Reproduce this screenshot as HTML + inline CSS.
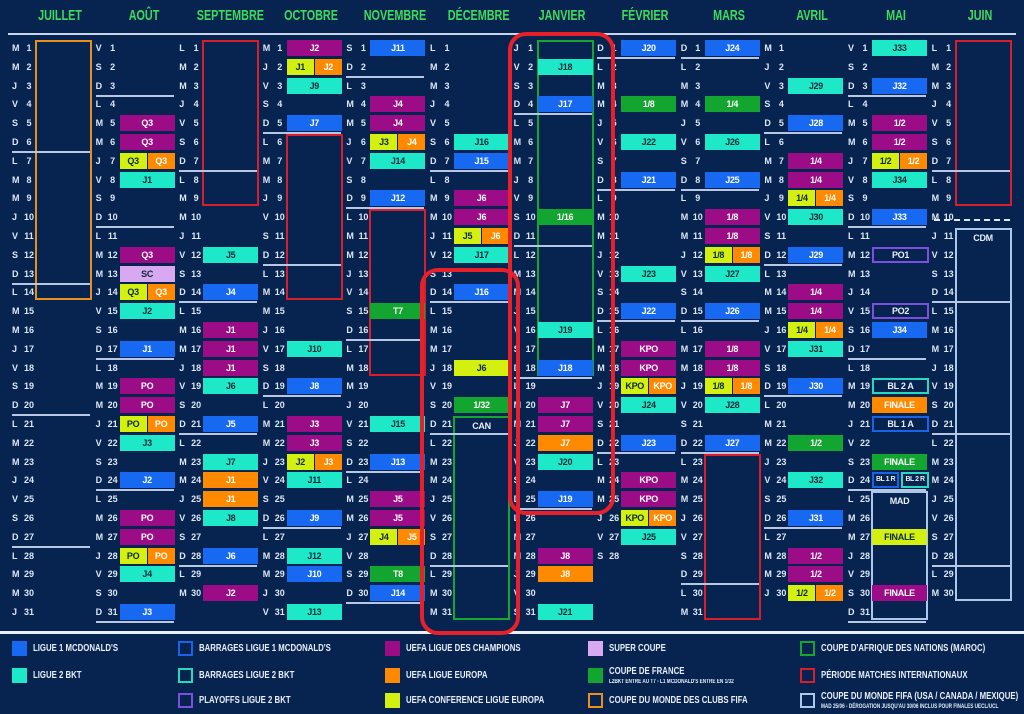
<!DOCTYPE html>
<html><head><meta charset="utf-8">
<style>
html,body{margin:0;padding:0;background:#06244f;}
#c{position:relative;width:1024px;height:714px;overflow:hidden;background:#06244f;font-family:"Liberation Sans",sans-serif;font-weight:bold;color:#e8eefa;}
.a{position:absolute;box-sizing:border-box;}
.h{color:#3fdc5c;font-size:15px;text-align:center;width:84px;top:7px;transform:scaleX(.72);}
.d{font-size:9px;color:#dde6f5;line-height:12px;}
.b{font-size:9px;text-align:center;line-height:16px;height:16px;letter-spacing:-0.3px;}
.lg{font-size:10px;color:#e8eefa;transform:scaleX(.78);transform-origin:0 0;}
.sw{width:15px;height:15px;}
</style></head><body><div id="c"></div>
<script>
var c=document.getElementById('c');
function A(cls,st,txt){var e=document.createElement('div');e.className='a '+cls;e.style.cssText=st;if(txt)e.textContent=txt;c.appendChild(e);return e;}
var months=['JUILLET','AOÛT','SEPTEMBRE','OCTOBRE','NOVEMBRE','DÉCEMBRE','JANVIER','FÉVRIER','MARS','AVRIL','MAI','JUIN'];
var dl=['D','L','M','M','J','V','S'];
var col={1:['#1769f2','#fff'],2:['#1de8c8','#0a2a3a'],C:['#9b0c86','#fff'],E:['#ff8a00','#fff'],K:['#d4f010','#0a2a3a'],S:['#d8a8f0','#0a2a3a'],F:['#12a52f','#fff']};
function X(m){return 12+m*83.6;}
function Y(d){return 48+(d-1)*18.8;}
A('','left:8px;top:33px;width:1008px;height:2px;background:#c9d6ea;');
for(var m=0;m<12;m++){
 A('h','left:'+(X(m)+6)+'px;',months[m]);
 var yr=m<6?2025:2026,mo=(m+6)%12;
 var n=new Date(yr,mo+1,0).getDate();
 for(var d=1;d<=n;d++){
  var w=new Date(yr,mo,d).getDay();
  A('d','left:'+X(m)+'px;top:'+(Y(d)-6)+'px;',dl[w]);
  A('d','left:'+(X(m)+10)+'px;top:'+(Y(d)-6)+'px;width:14px;text-align:center;',''+d);
  if(w==0)A('','left:'+X(m)+'px;top:'+(Y(d)+9)+'px;width:78px;height:2px;background:#b8c8e4;z-index:2;');
 }
}
var ev={
1:[[5,'C','Q3'],[6,'C','Q3'],[7,'KE','Q3'],[8,'2','J1'],[12,'C','Q3'],[13,'S','SC'],[14,'KE','Q3'],[15,'2','J2'],[17,'1','J1'],[19,'C','PO'],[20,'C','PO'],[21,'KE','PO'],[22,'2','J3'],[24,'1','J2'],[26,'C','PO'],[27,'C','PO'],[28,'KE','PO'],[29,'2','J4'],[31,'1','J3']],
2:[[12,'2','J5'],[14,'1','J4'],[16,'C','J1'],[17,'C','J1'],[18,'C','J1'],[19,'2','J6'],[21,'1','J5'],[23,'2','J7'],[24,'E','J1'],[25,'E','J1'],[26,'2','J8'],[28,'1','J6'],[30,'C','J2']],
3:[[1,'C','J2'],[2,'KE','J1|J2'],[3,'2','J9'],[5,'1','J7'],[17,'2','J10'],[19,'1','J8'],[21,'C','J3'],[22,'C','J3'],[23,'KE','J2|J3'],[24,'2','J11'],[26,'1','J9'],[28,'2','J12'],[29,'1','J10'],[31,'2','J13']],
4:[[1,'1','J11'],[4,'C','J4'],[5,'C','J4'],[6,'KE','J3|J4'],[7,'2','J14'],[9,'1','J12'],[15,'F','T7'],[21,'2','J15'],[23,'1','J13'],[25,'C','J5'],[26,'C','J5'],[27,'KE','J4|J5'],[29,'F','T8'],[30,'1','J14']],
5:[[6,'2','J16'],[7,'1','J15'],[9,'C','J6'],[10,'C','J6'],[11,'KE','J5|J6'],[12,'2','J17'],[14,'1','J16'],[18,'K','J6'],[20,'F','1/32']],
6:[[2,'2','J18'],[4,'1','J17'],[10,'F','1/16'],[16,'2','J19'],[18,'1','J18'],[20,'C','J7'],[21,'C','J7'],[22,'E','J7'],[23,'2','J20'],[25,'1','J19'],[28,'C','J8'],[29,'E','J8'],[31,'2','J21']],
7:[[1,'1','J20'],[4,'F','1/8'],[6,'2','J22'],[8,'1','J21'],[13,'2','J23'],[15,'1','J22'],[17,'C','KPO'],[18,'C','KPO'],[19,'KE','KPO'],[20,'2','J24'],[22,'1','J23'],[24,'C','KPO'],[25,'C','KPO'],[26,'KE','KPO'],[27,'2','J25']],
8:[[1,'1','J24'],[4,'F','1/4'],[6,'2','J26'],[8,'1','J25'],[10,'C','1/8'],[11,'C','1/8'],[12,'KE','1/8'],[13,'2','J27'],[15,'1','J26'],[17,'C','1/8'],[18,'C','1/8'],[19,'KE','1/8'],[20,'2','J28'],[22,'1','J27']],
9:[[3,'2','J29'],[5,'1','J28'],[7,'C','1/4'],[8,'C','1/4'],[9,'KE','1/4'],[10,'2','J30'],[12,'1','J29'],[14,'C','1/4'],[15,'C','1/4'],[16,'KE','1/4'],[17,'2','J31'],[19,'1','J30'],[22,'F','1/2'],[24,'2','J32'],[26,'1','J31'],[28,'C','1/2'],[29,'C','1/2'],[30,'KE','1/2']],
10:[[1,'2','J33'],[3,'1','J32'],[5,'C','1/2'],[6,'C','1/2'],[7,'KE','1/2'],[8,'2','J34'],[10,'1','J33'],[16,'1','J34'],[20,'E','FINALE'],[23,'F','FINALE'],[27,'K','FINALE'],[30,'C','FINALE']]
};
function box(m,d,t,l,x,w){var cc=col[t];A('b','left:'+x+'px;top:'+(Y(d)-8)+'px;width:'+w+'px;background:'+cc[0]+';color:'+cc[1]+';z-index:3;',l);}
for(var k in ev){var m=+k;ev[k].forEach(function(e){var x=X(m)+24;
 if(e[1]=='KE'){var p=e[2].split('|');box(m,e[0],'K',p[0],x,27);box(m,e[0],'E',p[1]||p[0],x+28,27);}
 else box(m,e[0],e[1],e[2],x,55);});}
function out(m,d1,d2,color,txt,bw){return A('b','left:'+(X(m)+23)+'px;top:'+(Y(d1)-8)+'px;width:57px;height:'+(Y(d2)-Y(d1)+16)+'px;border:'+(bw||2)+'px solid '+color+';z-index:1;',txt||'');}
out(0,1,14,'#e8901c');
out(2,1,9,'#d81e2a');out(3,6,14,'#d81e2a');out(4,10,18,'#d81e2a');out(8,23,31,'#d81e2a');out(11,1,9,'#d81e2a');
out(5,21,31,'#16a531','CAN');out(6,1,18,'#16a531');
out(11,11,30,'#a9c8ec','CDM');
A('','left:'+(X(11)+2)+'px;top:'+(Y(10)+2)+'px;width:76px;border-top:2px dashed #e0e8f5;z-index:2;');
function ob(d,color,l,x,w,fs){A('b','left:'+x+'px;top:'+(Y(d)-8)+'px;width:'+w+'px;border:2px solid '+color+';line-height:12px;z-index:3;white-space:nowrap;overflow:hidden;'+(fs?'font-size:'+fs+'px;letter-spacing:-0.5px;':''),l);}
var mx=X(10)+24;
ob(12,'#7d4fe0','PO1',mx,57);ob(15,'#7d4fe0','PO2',mx,57);ob(19,'#28d8c0','BL 2 A',mx,57);ob(21,'#1a62e6','BL 1 A',mx,57);
ob(24,'#1a62e6','BL 1 R',mx,27,7);ob(24,'#28d8c0','BL 2 R',mx+29,28,7);
out(10,25,31,'#a9c8ec','MAD');
A('','left:420px;top:268px;width:100px;height:367px;border:4px solid #e8202a;border-radius:18px;z-index:4;');
A('','left:508px;top:32px;width:107px;height:483px;border:4px solid #e8202a;border-radius:18px;z-index:4;');
A('','left:0;top:631px;width:1024px;height:3px;background:#e8eefa;');
var L=[[12,649,'f','#1769f2','LIGUE 1 MCDONALD\'S'],[12,676,'f','#1de8c8','LIGUE 2 BKT'],
[178,649,'o','#1a62e6','BARRAGES LIGUE 1 MCDONALD\'S'],[178,676,'o','#28d8c0','BARRAGES LIGUE 2 BKT'],[178,701,'o','#7d4fe0','PLAYOFFS LIGUE 2 BKT'],
[385,649,'f','#9b0c86','UEFA LIGUE DES CHAMPIONS'],[385,676,'f','#ff8a00','UEFA LIGUE EUROPA'],[385,701,'f','#d4f010','UEFA CONFERENCE LIGUE EUROPA'],
[588,649,'f','#d8a8f0','SUPER COUPE'],[588,676,'f','#12a52f','COUPE DE FRANCE'],[588,701,'o','#e8901c','COUPE DU MONDE DES CLUBS FIFA'],
[800,649,'o','#16a531','COUPE D\'AFRIQUE DES NATIONS (MAROC)'],[800,676,'o','#d81e2a','PÉRIODE MATCHES INTERNATIONAUX'],[800,701,'o','#a9c8ec','COUPE DU MONDE FIFA (USA / CANADA / MEXIQUE)']];
L.forEach(function(l){
 A('sw','left:'+l[0]+'px;top:'+(l[1]-8)+'px;'+(l[2]=='f'?'background:'+l[3]:'border:2px solid '+l[3])+';');
 var sub=(l[4]=='COUPE DE FRANCE'||l[4].indexOf('MEXIQUE')>0);
 A('lg','left:'+(l[0]+21)+'px;top:'+(l[1]-(sub?10:6))+'px;white-space:nowrap;',l[4]);
});
A('lg','left:609px;top:679px;font-size:6px;white-space:nowrap;','L2BKT ENTRE AU T7 - L1 MCDONALD\'S ENTRE EN 1/32');
A('lg','left:821px;top:704px;font-size:6px;white-space:nowrap;','MAD 25/06 - DÉROGATION JUSQU\'AU 30/06 INCLUS POUR FINALES UECL/UCL');
</script></body></html>
